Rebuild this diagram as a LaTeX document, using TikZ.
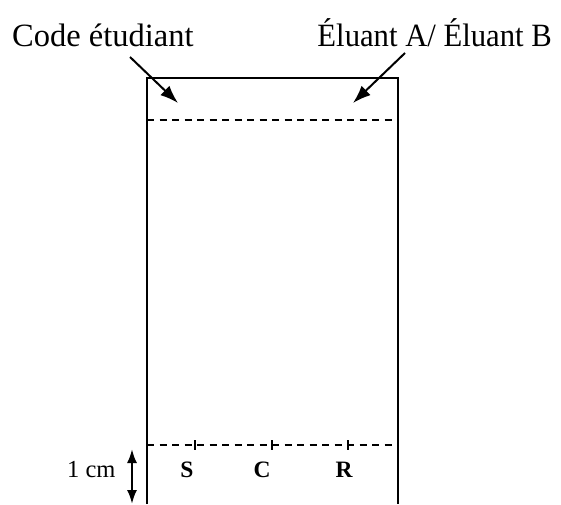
\documentclass[tikz,border=0pt]{standalone}
\usepackage{fontspec}
\setmainfont{Liberation Serif}
\usetikzlibrary{arrows.meta}
\begin{document}
\begin{tikzpicture}[x=1pt,y=1pt,
  plate/.style={line width=2.4pt},
  guide/.style={line width=1.8pt,dash pattern=on 7pt off 5.5pt},
  tick/.style={line width=1.8pt},
  pointer/.style={line width=2pt,-{Latex[length=18pt,width=13pt]}},
  measure/.style={line width=2.2pt,{Latex[length=14pt,width=10pt]}-{Latex[length=14pt,width=10pt]}},
  bigtext/.style={font=\fontsize{32.5}{36}\selectfont,inner sep=0pt},
  spot/.style={font=\fontsize{23.5}{26}\selectfont\bfseries,inner sep=0pt},
  dim/.style={font=\fontsize{24.5}{27}\selectfont,inner sep=0pt}]
\useasboundingbox (0,0) rectangle (561,504);

% plate outline (open at the bottom)
\coordinate (bl) at (147,0);
\coordinate (tl) at (147,426);
\coordinate (tr) at (398,426);
\coordinate (br) at (398,0);
\draw[plate] (bl) -- (tl) -- (tr) -- (br);

% top and bottom guide lines
\coordinate (tgl) at (147,384);
\coordinate (tgr) at (398,384);
\draw[guide] (tgl) -- (tgr);
\coordinate (bgl) at (147,59);
\coordinate (bgr) at (398,59);
\draw[guide] (bgl) -- (bgr);

% spotting marks
\foreach \n/\x in {s/195,c/272,r/348}{
  \coordinate (\n top) at (\x,64);
  \coordinate (\n bot) at (\x,54);
  \draw[tick] (\n top) -- (\n bot);
}
\node[spot,anchor=base] (S) at (187,27) {S};
\node[spot,anchor=base] (C) at (262,27) {C};
\node[spot,anchor=base] (R) at (344,27) {R};

% labels on top
\node[bigtext,anchor=base west] (code) at (12,457) {Code étudiant};
\node[bigtext,anchor=base east] (eluant) at (552,457) {\scalebox{0.944}[1]{Éluant A/ Éluant B}};
\coordinate (codefrom) at (130,447);
\coordinate (codeto) at (178,401);
\coordinate (elufrom) at (405,451);
\coordinate (eluto) at (353,401);
\draw[pointer] (codefrom) -- (codeto);
\draw[pointer] (elufrom) -- (eluto);

% 1 cm dimension
\coordinate (dtop) at (132,55);
\coordinate (dbot) at (132,0);
\draw[measure] (dtop) -- (dbot);
\node[dim,anchor=base west] (onecm) at (67,27) {1 cm};
\end{tikzpicture}
\end{document}
